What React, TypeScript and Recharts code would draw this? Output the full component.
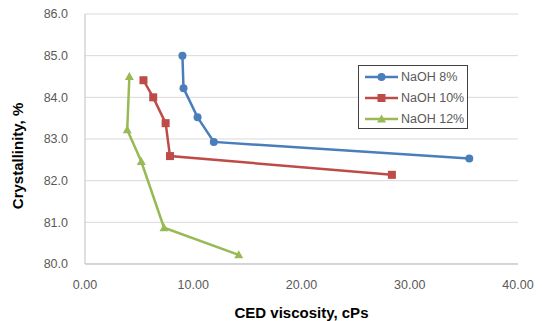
import {
  CartesianGrid,
  Legend,
  Scatter,
  ScatterChart,
  XAxis,
  YAxis,
} from "recharts";

const naoh8X = [9.0, 9.1, 10.4, 11.9, 35.5];
const naoh8Y = [85.0, 84.22, 83.52, 82.93, 82.53];
const naoh10X = [5.4, 6.3, 7.45, 7.85, 28.35];
const naoh10Y = [84.41, 84.0, 83.38, 82.59, 82.14];
const naoh12X = [4.1, 3.9, 5.2, 7.3, 14.2];
const naoh12Y = [84.5, 83.22, 82.46, 80.87, 80.22];

const xTicks = [0, 10, 20, 30, 40];
const yTicks = [80, 81, 82, 83, 84, 85, 86];

const BLUE = "#4a7ebb";
const RED = "#be4b48";
const GREEN = "#98b954";
const FONT = "'Liberation Sans', Arial, sans-serif";

const zip = (xs: number[], ys: number[]) => xs.map((x, i) => ({ x, y: ys[i] }));

const series = [
  { name: "NaOH 8%", data: zip(naoh8X, naoh8Y), color: BLUE, marker: "circle" },
  { name: "NaOH 10%", data: zip(naoh10X, naoh10Y), color: RED, marker: "square" },
  { name: "NaOH 12%", data: zip(naoh12X, naoh12Y), color: GREEN, marker: "triangle" },
];

function Marker({ cx, cy, kind, color }: any) {
  if (cx == null || cy == null) return null;
  if (kind === "circle") return <circle cx={cx} cy={cy} r={4} fill={color} />;
  if (kind === "square")
    return <rect x={cx - 4} y={cy - 4} width={8} height={8} fill={color} />;
  return (
    <polygon
      points={`${cx},${cy - 4.5} ${cx + 4.5},${cy + 3.5} ${cx - 4.5},${cy + 3.5}`}
      fill={color}
    />
  );
}

function LegendBox() {
  return (
    <div
      style={{
        border: "1px solid #404040",
        background: "#fff",
        padding: "0 6px",
        width: 110,
        height: 64,
        boxSizing: "border-box",
        whiteSpace: "nowrap",
        fontFamily: FONT,
        fontSize: 12.5,
        color: "#595959",
      }}
    >
      {series.map((s) => (
        <div key={s.name} style={{ display: "flex", alignItems: "center", height: 21 }}>
          <svg width={33} height={12} style={{ marginRight: 3, flexShrink: 0 }}>
            <line x1={0} y1={6} x2={33} y2={6} stroke={s.color} strokeWidth={2.5} />
            <Marker cx={16.5} cy={6} kind={s.marker} color={s.color} />
          </svg>
          <span>{s.name}</span>
        </div>
      ))}
    </div>
  );
}

function YTitle({ viewBox }: any) {
  const x = viewBox.x + 17;
  const y = viewBox.y + viewBox.height / 2 + 17;
  return (
    <text
      x={x}
      y={y}
      transform={`rotate(-90, ${x}, ${y})`}
      textAnchor="middle"
      dominantBaseline="central"
      fontFamily={FONT}
      fontWeight="bold"
      fontSize={15}
      fill="#000"
    >
      Crystallinity, %
    </text>
  );
}

export default function App() {
  return (
    <div style={{ position: "absolute", left: 0, top: 0, background: "#fff" }}>
      <ScatterChart
        width={542}
        height={321}
        margin={{ top: 14, right: 24, left: 0, bottom: 0 }}
      >
        <CartesianGrid vertical={false} stroke="#d9d9d9" />
        <XAxis
          type="number"
          dataKey="x"
          domain={[0, 40]}
          ticks={xTicks}
          tickFormatter={(v: number) => v.toFixed(2)}
          height={57}
          tickLine={false}
          tickSize={0}
          tickMargin={16}
          axisLine={{ stroke: "#bfbfbf" }}
          tick={{ fill: "#595959", fontSize: 12.5, fontFamily: FONT }}
          label={{
            value: "CED viscosity, cPs",
            position: "insideBottom",
            offset: 3,
            style: { fontFamily: FONT, fontWeight: "bold", fontSize: 15, fill: "#000" },
          }}
        />
        <YAxis
          type="number"
          dataKey="y"
          domain={[80, 86]}
          ticks={yTicks}
          tickFormatter={(v: number) => v.toFixed(1)}
          width={85}
          tickLine={false}
          tickSize={0}
          tickMargin={17}
          axisLine={{ stroke: "#bfbfbf" }}
          tick={{ fill: "#595959", fontSize: 12.5, fontFamily: FONT }}
          label={<YTitle />}
        />
        <Legend
          layout="vertical"
          align="center"
          verticalAlign="middle"
          content={() => <LegendBox />}
          wrapperStyle={{ left: 358, top: 65, width: 110 }}
        />
        {series.map((s) => (
          <Scatter
            key={s.name}
            name={s.name}
            data={s.data}
            fill={s.color}
            line={{ stroke: s.color, strokeWidth: 2.5 }}
            lineType="joint"
            shape={(p: any) => <Marker cx={p.cx} cy={p.cy} kind={s.marker} color={s.color} />}
            isAnimationActive={false}
          />
        ))}
      </ScatterChart>
    </div>
  );
}
